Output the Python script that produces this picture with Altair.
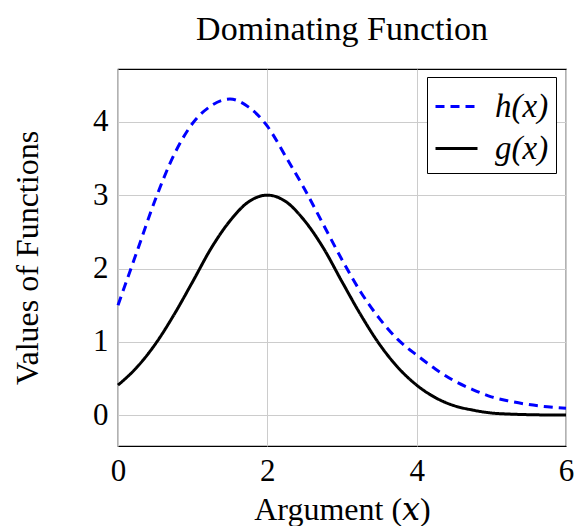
import altair as alt
import pandas as pd

x_vals = [0.0, 0.25, 0.5, 0.75, 1.0, 1.25, 1.5, 1.75, 2.0, 2.25, 2.5, 2.75, 3.0,
          3.25, 3.5, 3.75, 4.0, 4.25, 4.5, 4.75, 5.0, 5.25, 5.5, 5.75, 6.0]
h_vals = [1.50, 2.22, 2.94, 3.55, 3.98, 4.22, 4.31, 4.20, 3.94, 3.52, 3.08, 2.60,
          2.12, 1.68, 1.32, 1.03, 0.82, 0.63, 0.47, 0.35, 0.25, 0.19, 0.145, 0.115, 0.095]
g_vals = [0.41, 0.65, 0.97, 1.37, 1.82, 2.28, 2.65, 2.91, 3.00, 2.91, 2.65, 2.28,
          1.82, 1.37, 0.97, 0.65, 0.41, 0.24, 0.13, 0.07, 0.03, 0.015, 0.007, 0.003, 0.001]
series_names = ["h(x)", "g(x)"]
series_colors = ["#0000ff", "#000000"]

rows = []
for name, vals in zip(series_names, [h_vals, g_vals]):
    for xv, yv in zip(x_vals, vals):
        rows.append({"x": xv, "y": yv, "series": name})
df = pd.DataFrame(rows)

FONT = "Liberation Serif, DejaVu Serif, serif"

legend_opts = dict(title=None, orient="none", legendX=309, legendY=8)

chart = alt.Chart(df).mark_line(strokeWidth=3, interpolate="monotone").encode(
    x=alt.X("x:Q", scale=alt.Scale(domain=[0, 6], nice=False, zero=False),
            axis=alt.Axis(values=[0, 2, 4, 6], title="Argument (𝑥)", format="d",
                          labelFlush=False)),
    y=alt.Y("y:Q", scale=alt.Scale(domain=[-0.42, 4.72], nice=False, zero=False),
            axis=alt.Axis(values=[0, 1, 2, 3, 4], title="Values of Functions", format="d",
                          labelFlush=False)),
    color=alt.Color("series:N", sort=series_names,
                    scale=alt.Scale(domain=series_names, range=series_colors),
                    legend=alt.Legend(**legend_opts)),
    strokeDash=alt.StrokeDash("series:N", sort=series_names,
                              scale=alt.Scale(domain=series_names, range=[[9, 6], [1, 0]]),
                              legend=alt.Legend(**legend_opts)),
).properties(
    width=448, height=377,
    title=alt.TitleParams("Dominating Function", font=FONT, fontSize=34, fontWeight="normal",
                          color="black", anchor="middle", offset=22),
    autosize=alt.AutoSizeParams(type="none"),
    padding={"left": 110, "top": 61, "right": 10, "bottom": 80},
).configure_view(
    stroke="black", strokeWidth=1.2
).configure_axis(
    grid=True, gridColor="#cccccc", gridWidth=1, domain=False, ticks=False,
    labelFont=FONT, labelFontSize=31, labelColor="black", labelPadding=10,
    titleFont=FONT, titleFontSize=32, titleFontWeight="normal", titleColor="black",
).configure_axisX(titlePadding=8).configure_axisY(titlePadding=48).configure_legend(
    strokeColor="black", fillColor="white", padding=7,
    symbolType="stroke", symbolSize=1764, symbolStrokeWidth=3,
    labelFont=FONT, labelFontSize=33, labelFontStyle="italic",
    labelColor="black", rowPadding=2, labelOffset=16, cornerRadius=0,
)

chart.save("out.html", embed_options={"renderer": "svg", "actions": False})
